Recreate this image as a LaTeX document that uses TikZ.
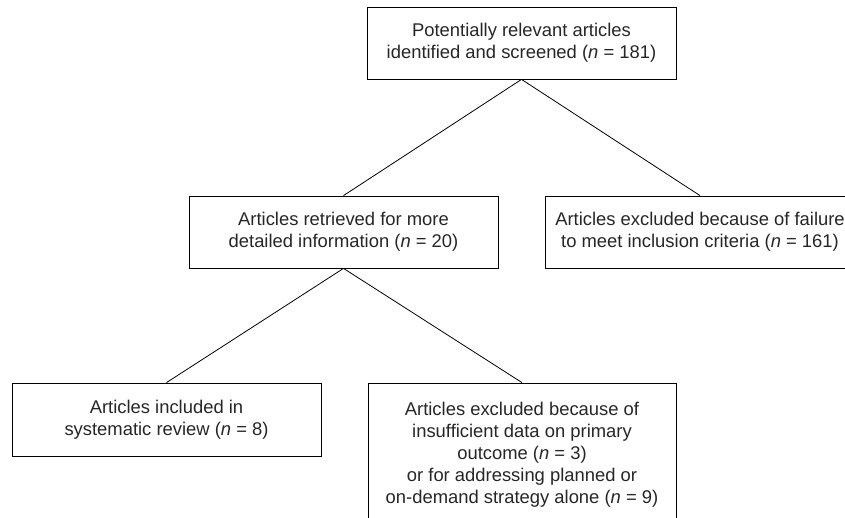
\documentclass[tikz,border=0pt]{standalone}
\usepackage{fontspec}
\setmainfont{Liberation Sans}
\begin{document}
\begin{tikzpicture}[x=1pt,y=1pt,
        box/.style={draw,line width=0.8pt,inner sep=0pt,minimum width=309pt,minimum height=72pt,
            align=center,font=\fontsize{18.4}{22}\selectfont,text=black!85},
        link/.style={line width=0.8pt}]
        \useasboundingbox (0,0) rectangle (845,517);
        \path (521.5,474) node [box] (screened) {Potentially relevant articles\\identified and screened (\textit{n} = 181)};
        \path (343.5,285) node [box] (retrieved) {Articles retrieved for more\\detailed information (\textit{n} = 20)};
        \path (700,285) node [box,minimum width=310pt] (failure) {Articles excluded because of failure\\to meet inclusion criteria (\textit{n} = 161)};
        \path (166.5,97.5) node [box,minimum height=73pt] (included) {Articles included in\\systematic review (\textit{n} = 8)};
        \path (522,62) node [box,minimum width=308pt,minimum height=144pt] (insufficient) {Articles excluded because of\\insufficient data on primary\\outcome (\textit{n} = 3)\\or for addressing planned or\\on-demand strategy alone (\textit{n} = 9)};
        \draw [link] (screened.south) -- (retrieved.north);
        \draw [link] (screened.south) -- (failure.north);
        \draw [link] (retrieved.south) -- (included.north);
        \draw [link] (retrieved.south) -- (insufficient.north);
    \end{tikzpicture}
\end{document}
